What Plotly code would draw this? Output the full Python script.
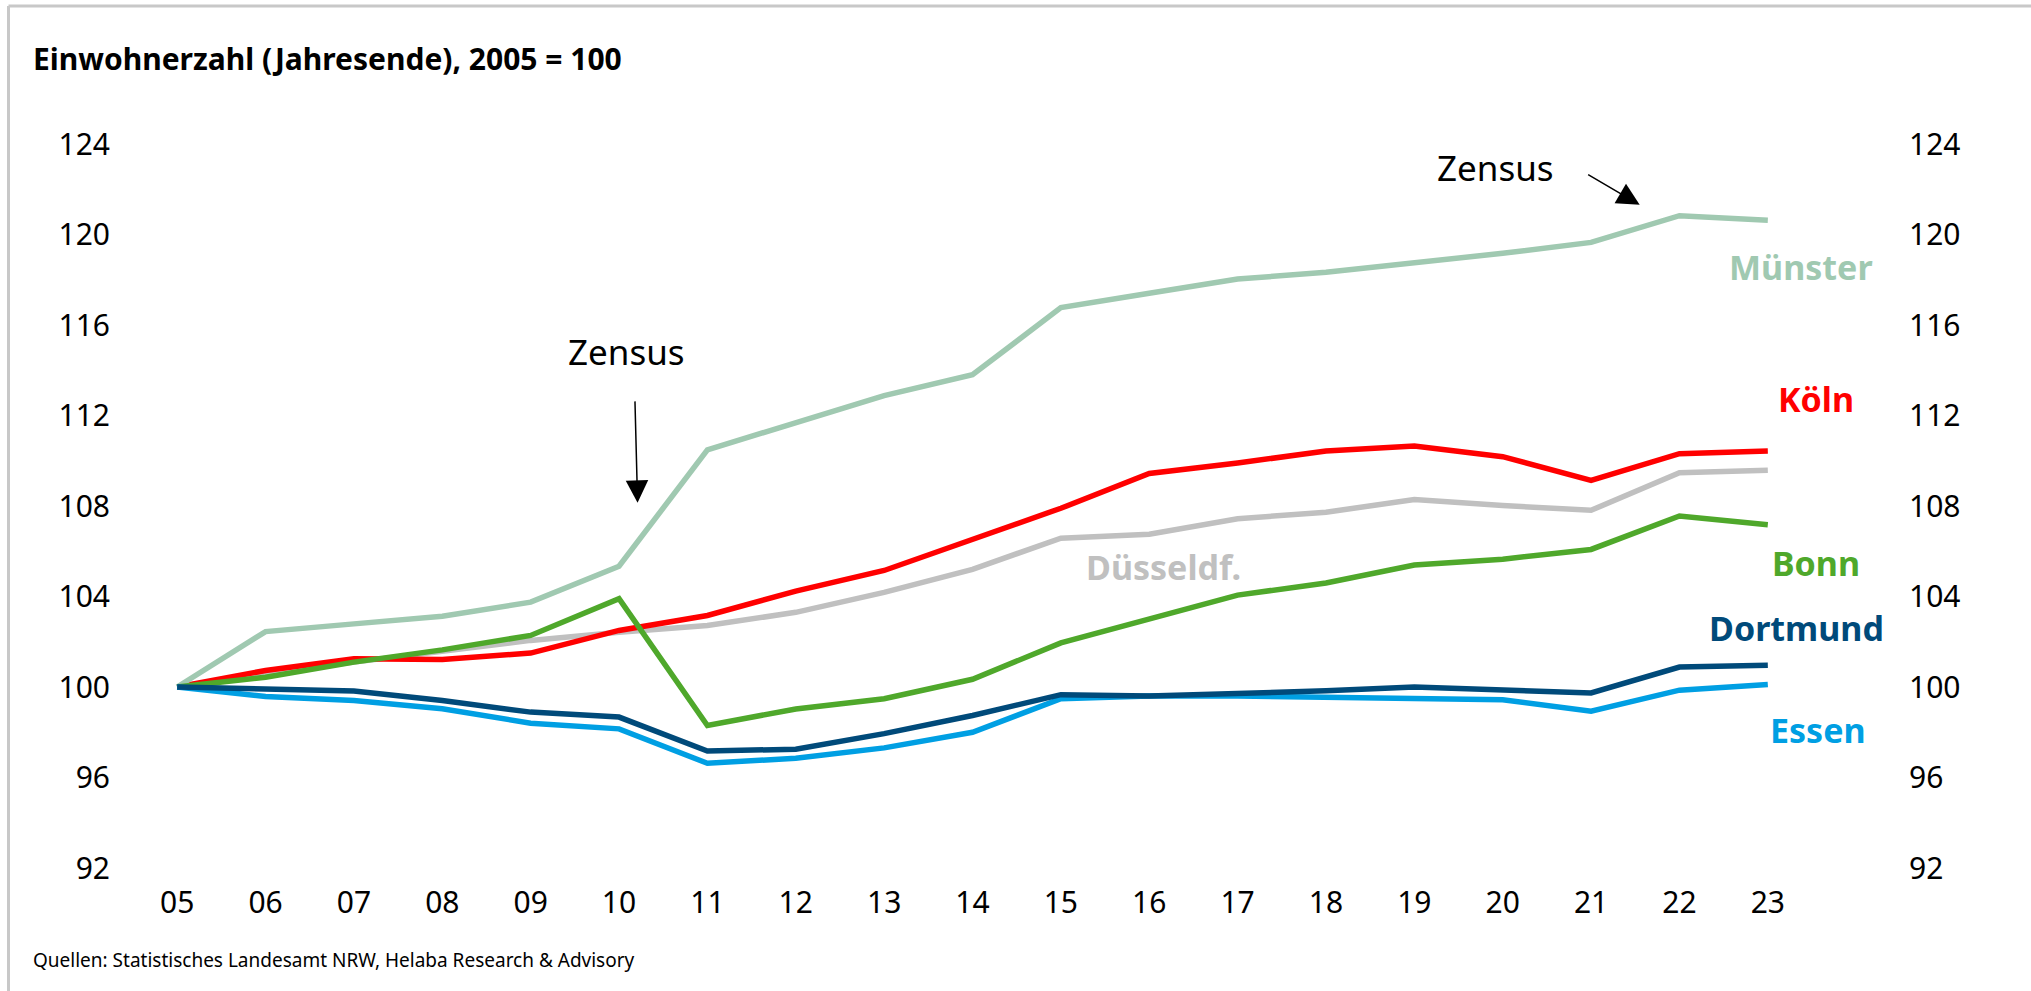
import plotly.graph_objects as go

years = ["05", "06", "07", "08", "09", "10", "11", "12", "13", "14",
         "15", "16", "17", "18", "19", "20", "21", "22", "23"]

muenster = [100, 102.45, 102.79, 103.13, 103.75, 105.34, 110.48, 111.7, 112.88, 113.8,
            116.77, 117.4, 118.03, 118.33, 118.72, 119.17, 119.65, 120.83, 120.63]
koeln = [100, 100.73, 101.25, 101.22, 101.5, 102.5, 103.16, 104.24, 105.15, 106.5,
         107.9, 109.44, 109.9, 110.43, 110.65, 110.18, 109.13, 110.31, 110.43]
duesseldorf = [100, 100.6, 101.1, 101.6, 102.06, 102.42, 102.72, 103.3, 104.18, 105.2,
               106.58, 106.75, 107.44, 107.72, 108.29, 108.02, 107.81, 109.47, 109.58]
bonn = [100, 100.43, 101.1, 101.64, 102.28, 103.9, 98.3, 99.03, 99.48, 100.34,
        101.95, 102.98, 104.06, 104.6, 105.39, 105.65, 106.08, 107.56, 107.17]
dortmund = [100, 99.92, 99.82, 99.4, 98.89, 98.67, 97.17, 97.25, 97.94, 98.74,
            99.66, 99.6, 99.71, 99.83, 100.0, 99.9, 99.74, 100.88, 100.96]
essen = [100, 99.58, 99.4, 99.04, 98.4, 98.15, 96.63, 96.85, 97.31, 98.0,
         99.48, 99.6, 99.6, 99.56, 99.52, 99.44, 98.93, 99.86, 100.11]

y_ticks = [92, 96, 100, 104, 108, 112, 116, 120, 124]

title_text = "Einwohnerzahl (Jahresende), 2005 = 100"
source_text = "Quellen: Statistisches Landesamt NRW, Helaba Research & Advisory"

series = [
    ("Düsseldf.", duesseldorf, "#c0c0c0"),
    ("Köln", koeln, "#ff0000"),
    ("Münster", muenster, "#a0c9b1"),
    ("Bonn", bonn, "#4fa82b"),
    ("Essen", essen, "#009fe3"),
    ("Dortmund", dortmund, "#004a7a"),
]

L, R, T, B = 133, 219, 144, 123
PW = 2031 - L - R
PH = 991 - T - B
def px_x(px):
    return (px - L) / PW
def px_y(py):
    return (991 - B - py) / PH

# label positions: (pixel x centre, data y)
label_pos = {
    "Münster": (1801, 118.58),
    "Köln": (1816, 112.71),
    "Bonn": (1816, 105.48),
    "Dortmund": (1796, 102.6),
    "Essen": (1818, 98.09),
    "Düsseldf.": (1163, 105.3),
}

FONT = "Noto Sans"
xs = list(range(len(years)))

fig = go.Figure()
for name, vals, col in series:
    fig.add_trace(go.Scatter(x=xs, y=vals, mode="lines", name=name,
                             line=dict(color=col, width=5.5), hoverinfo="skip"))
# invisible trace to carry the right-hand axis
fig.add_trace(go.Scatter(x=xs, y=muenster, mode="lines", yaxis="y2",
                         line=dict(color="rgba(0,0,0,0)", width=0), hoverinfo="skip",
                         showlegend=False))

annotations = []
for name, vals, col in series:
    lx, ly = label_pos[name]
    annotations.append(dict(x=px_x(lx), y=ly, xref="paper", yref="y", text="<b>%s</b>" % name,
                            showarrow=False, xanchor="center", yanchor="middle",
                            font=dict(family=FONT, size=34, color=col)))

# Zensus notes
annotations.append(dict(x=5.09, y=114.85, xref="x", yref="y", text="Zensus", showarrow=False,
                        xanchor="center", yanchor="middle",
                        font=dict(family=FONT, size=35, color="black")))
annotations.append(dict(x=5.21, y=108.14, ax=5.18, ay=112.69, xref="x", yref="y",
                        axref="x", ayref="y", text="", showarrow=True,
                        arrowhead=2, arrowsize=3, arrowwidth=1.5, arrowcolor="black"))
annotations.append(dict(x=14.92, y=122.96, xref="x", yref="y", text="Zensus", showarrow=False,
                        xanchor="center", yanchor="middle",
                        font=dict(family=FONT, size=35, color="black")))
annotations.append(dict(x=16.55, y=121.31, ax=15.95, ay=122.69, xref="x", yref="y",
                        axref="x", ayref="y", text="", showarrow=True,
                        arrowhead=2, arrowsize=3, arrowwidth=1.5, arrowcolor="black"))

annotations.append(dict(x=px_x(31), y=px_y(58), xref="paper", yref="paper",
                        text="<b>%s</b>" % title_text, showarrow=False,
                        xanchor="left", yanchor="middle",
                        font=dict(family=FONT, size=30, color="black")))
annotations.append(dict(x=px_x(31), y=px_y(960), xref="paper", yref="paper",
                        text=source_text, showarrow=False,
                        xanchor="left", yanchor="middle",
                        font=dict(family=FONT, size=19, color="black")))

shapes = [
    dict(type="line", xref="paper", yref="paper", x0=px_x(8.5), x1=px_x(8.5),
         y0=px_y(6), y1=px_y(995), line=dict(color="#c8c8c8", width=3)),
    dict(type="line", xref="paper", yref="paper", x0=px_x(8.5), x1=px_x(2035),
         y0=px_y(6), y1=px_y(6), line=dict(color="#c8c8c8", width=3)),
]

fig.update_layout(
    width=2031, height=991,
    margin=dict(l=L, r=R, t=T, b=B),
    paper_bgcolor="white", plot_bgcolor="white",
    showlegend=False,
    font=dict(family=FONT, color="black"),
    xaxis=dict(range=[-0.5, 18.5], tickvals=xs, ticktext=years, showgrid=False,
               zeroline=False, showline=False, ticks="", tickfont=dict(size=30),
               ticklabelstandoff=14, fixedrange=True),
    yaxis=dict(range=[92, 124], tickvals=y_ticks, showgrid=False, zeroline=False,
               showline=False, ticks="", tickfont=dict(size=30),
               ticklabelstandoff=22, fixedrange=True),
    yaxis2=dict(range=[92, 124], tickvals=y_ticks, overlaying="y", side="right",
                anchor="x", showgrid=False, zeroline=False, showline=False, ticks="",
                tickfont=dict(size=30), ticklabelstandoff=96, fixedrange=True),
    annotations=annotations,
    shapes=shapes,
)

fig.write_html("out.html", config={"displayModeBar": False},
               post_script="document.body.style.margin='0';")
